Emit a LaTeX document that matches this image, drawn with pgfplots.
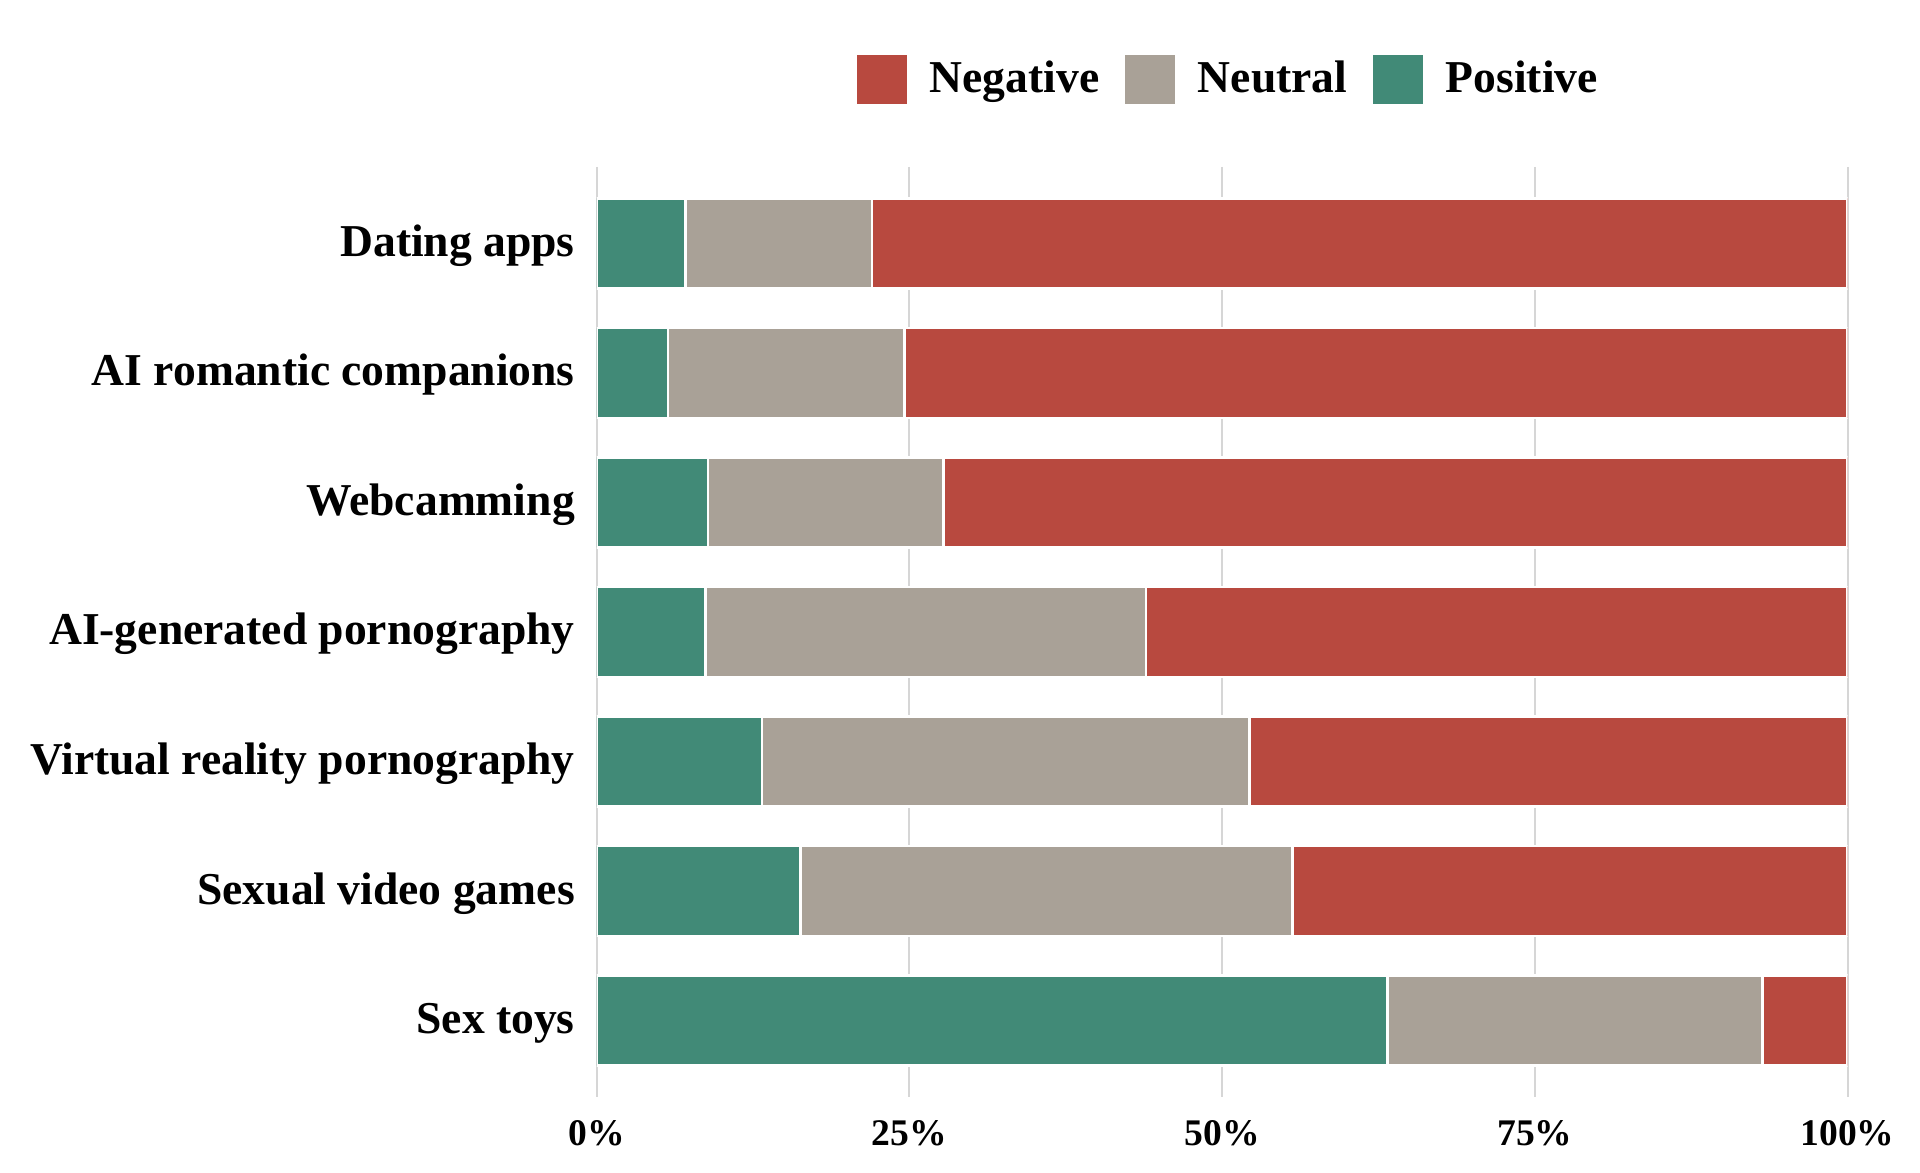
\documentclass[border=0pt]{standalone}
\usepackage{fontspec}
\setmainfont{Liberation Serif}
\usepackage{pgfplots}
\pgfplotsset{compat=1.18}

\definecolor{negred}{HTML}{B8493F}
\definecolor{neugray}{HTML}{A9A197}
\definecolor{posgreen}{HTML}{418A77}
\definecolor{gridgray}{HTML}{D6D6D6}

\begin{document}
\begin{tikzpicture}
% fixed page frame around the plot area
\path[use as bounding box] (-149.2pt,-19pt) rectangle (330.8pt,274.25pt);
\begin{axis}[
  at={(0pt,0pt)}, anchor=south west,
  scale only axis,
  width=312.7pt, height=232.5pt,
  xbar stacked,
  bar width=0.695,
  xmin=0, xmax=100,
  ymin=-0.59, ymax=6.59,
  y dir=reverse,
  axis line style={draw=none},
  major tick length=0pt,
  tick style={draw=none},
  xmajorgrids=true,
  major grid style={gridgray, line width=0.5pt},
  xtick={0,25,50,75,100},
  xticklabels={0\%,25\%,50\%,75\%,100\%},
  ytick={0,...,6},
  yticklabels={Dating apps, AI romantic companions, Webcamming, AI-generated pornography, Virtual reality pornography, Sexual video games, Sex toys},
  xticklabel style={font=\fontsize{9.4}{11}\selectfont\bfseries, anchor=north, inner sep=0pt, yshift=-5.8pt},
  yticklabel style={font=\fontsize{11.4}{13.7}\selectfont\bfseries, anchor=base east, inner sep=0pt, xshift=-5.3pt, yshift=-3.25pt},
  legend columns=-1,
  reverse legend,
  legend style={at={(0.208,1.094)}, anchor=west, draw=none, fill=none,
     inner sep=0pt, outer sep=0pt,
     font=\fontsize{11.4}{13.7}\selectfont\bfseries,
     nodes={inner sep=0pt},
     /tikz/every odd column/.append style={column sep=5.75pt},
     /tikz/every even column/.append style={column sep=6.4pt}},
]
% Positive
\addplot[fill=posgreen, draw=white, line width=0.67pt,
  legend image code/.code={\fill[posgreen] (0pt,-5.9pt) rectangle (11.8pt,5.9pt);}]
  coordinates {(7.1,0) (5.7,1) (8.9,2) (8.7,3) (13.2,4) (16.3,5) (63.2,6)};
\addlegendentry{Positive}
% Neutral
\addplot[fill=neugray, draw=white, line width=0.67pt,
  legend image code/.code={\fill[neugray] (0pt,-5.9pt) rectangle (11.8pt,5.9pt);}]
  coordinates {(14.9,0) (18.9,1) (18.8,2) (35.2,3) (39.0,4) (39.3,5) (30.0,6)};
\addlegendentry{Neutral}
% Negative
\addplot[fill=negred, draw=white, line width=0.67pt,
  legend image code/.code={\fill[negred] (0pt,-5.9pt) rectangle (11.8pt,5.9pt);}]
  coordinates {(78.0,0) (75.4,1) (72.3,2) (56.1,3) (47.8,4) (44.4,5) (6.8,6)};
\addlegendentry{Negative}
\end{axis}
\end{tikzpicture}
\end{document}
